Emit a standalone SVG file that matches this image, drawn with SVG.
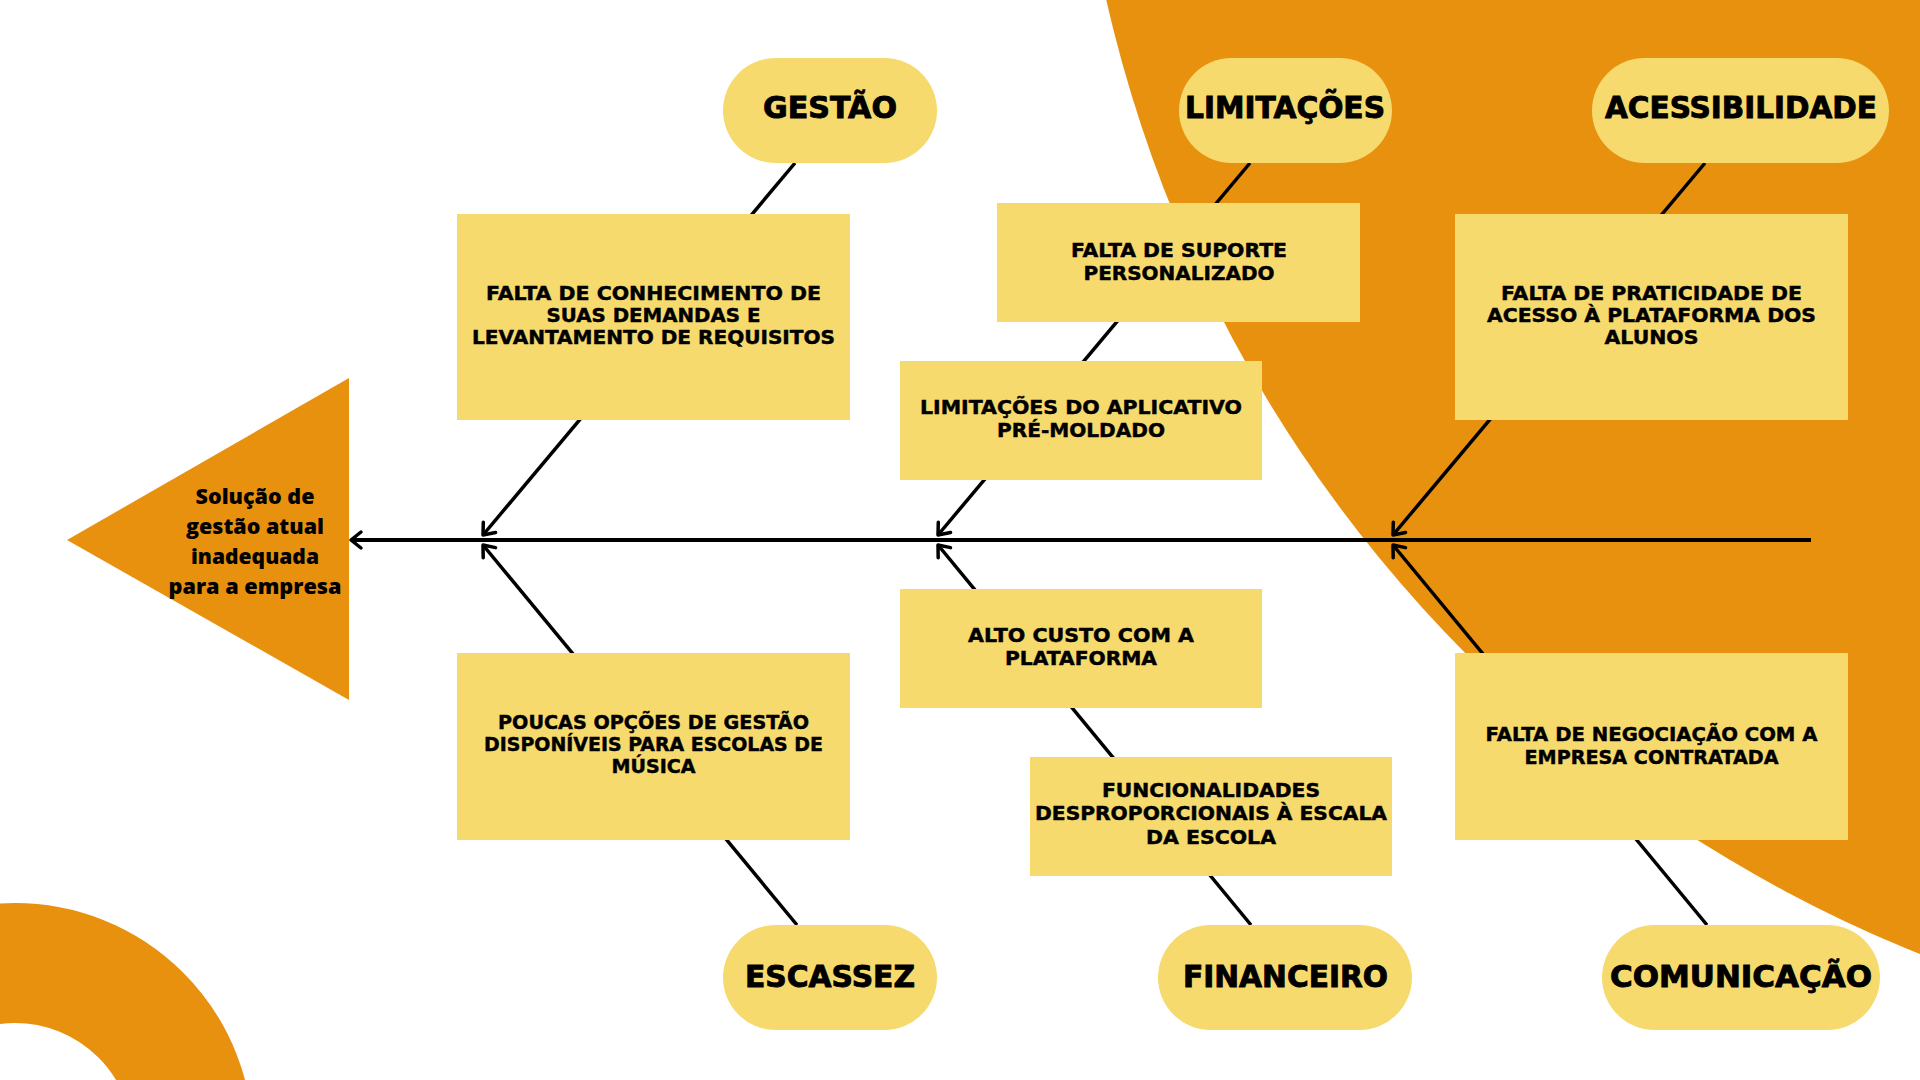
<svg xmlns="http://www.w3.org/2000/svg" width="1920" height="1080" viewBox="0 0 1920 1080">
<style>
.bg{fill:#E8910F}
.box{fill:#F6DA6E}
.cat{font-family:"DejaVu Sans",sans-serif;font-weight:700;font-size:30px;fill:#000;stroke:#000;stroke-width:0.9;text-anchor:middle}
.txt{font-family:"DejaVu Sans",sans-serif;font-weight:700;font-size:19px;fill:#000;stroke:#000;stroke-width:0.45;text-anchor:middle}
.eff{font-family:"Open Sans",sans-serif;font-weight:800;font-size:21px;fill:#000;text-anchor:middle}
.ln{stroke:#000;stroke-width:3.5;fill:none}
.sp{stroke:#000;stroke-width:4;fill:none}
</style>
<defs>
<marker id="arr" markerWidth="24" markerHeight="24" viewBox="-14 -12 24 24" refX="0" refY="0" orient="auto" markerUnits="userSpaceOnUse">
<path d="M-10,-8 L0,0 L-10,8" fill="none" stroke="#000" stroke-width="3.5" stroke-linecap="round" stroke-linejoin="round"/>
</marker>
</defs>
<rect width="1920" height="1080" fill="#FFFFFF"/>
<g id="background">
<circle class="bg" cx="2422" cy="-298" r="1349"/>
<circle cx="15" cy="1141" r="178" fill="none" stroke="#E8910F" stroke-width="120"/>
</g>
<g id="effect">
<polygon class="bg" points="67,540 349,378 349,700"/>
<text class="eff" x="255" y="504" textLength="119" lengthAdjust="spacingAndGlyphs">Solução de</text>
<text class="eff" x="255" y="534" textLength="138" lengthAdjust="spacingAndGlyphs">gestão atual</text>
<text class="eff" x="255" y="564" textLength="128" lengthAdjust="spacingAndGlyphs">inadequada</text>
<text class="eff" x="255" y="594" textLength="173" lengthAdjust="spacingAndGlyphs">para a empresa</text>
</g>
<g id="connectors">
<line class="sp" x1="1811" y1="540" x2="351" y2="540" marker-end="url(#arr)"/>
<line class="ln" x1="795" y1="163" x2="483" y2="535" marker-end="url(#arr)"/>
<line class="ln" x1="797" y1="925" x2="483" y2="545" marker-end="url(#arr)"/>
<line class="ln" x1="1250" y1="163" x2="938" y2="535" marker-end="url(#arr)"/>
<line class="ln" x1="1251" y1="925" x2="938" y2="545" marker-end="url(#arr)"/>
<line class="ln" x1="1705" y1="163" x2="1393" y2="535" marker-end="url(#arr)"/>
<line class="ln" x1="1707" y1="925" x2="1393" y2="545" marker-end="url(#arr)"/>
</g>
<g id="cat-gestao">
<rect class="box" x="723" y="58" width="214" height="105" rx="52.5"/>
<text class="cat" x="830" y="118" textLength="134" lengthAdjust="spacingAndGlyphs">GESTÃO</text>
</g>
<g id="cat-limitacoes">
<rect class="box" x="1179" y="58" width="213" height="105" rx="52.5"/>
<text class="cat" x="1285" y="118" textLength="200" lengthAdjust="spacingAndGlyphs">LIMITAÇÕES</text>
</g>
<g id="cat-acessibilidade">
<rect class="box" x="1592" y="58" width="297" height="105" rx="52.5"/>
<text class="cat" x="1741" y="118" textLength="272" lengthAdjust="spacingAndGlyphs">ACESSIBILIDADE</text>
</g>
<g id="cat-escassez">
<rect class="box" x="723" y="925" width="214" height="105" rx="52.5"/>
<text class="cat" x="830" y="987" textLength="170" lengthAdjust="spacingAndGlyphs">ESCASSEZ</text>
</g>
<g id="cat-financeiro">
<rect class="box" x="1158" y="925" width="254" height="105" rx="52.5"/>
<text class="cat" x="1285.5" y="987" textLength="205" lengthAdjust="spacingAndGlyphs">FINANCEIRO</text>
</g>
<g id="cat-comunicacao">
<rect class="box" x="1602" y="925" width="278" height="105" rx="52.5"/>
<text class="cat" x="1741" y="987" textLength="262" lengthAdjust="spacingAndGlyphs">COMUNICAÇÃO</text>
</g>
<g id="cause-conhecimento">
<rect class="box" x="457" y="214" width="393" height="206"/>
<text class="txt" x="653.5" y="300" textLength="335" lengthAdjust="spacingAndGlyphs">FALTA DE CONHECIMENTO DE</text>
<text class="txt" x="653.5" y="322" textLength="214" lengthAdjust="spacingAndGlyphs">SUAS DEMANDAS E</text>
<text class="txt" x="653.5" y="344" textLength="363" lengthAdjust="spacingAndGlyphs">LEVANTAMENTO DE REQUISITOS</text>
</g>
<g id="cause-suporte">
<rect class="box" x="997" y="203" width="363" height="119"/>
<text class="txt" x="1179" y="257" textLength="216" lengthAdjust="spacingAndGlyphs">FALTA DE SUPORTE</text>
<text class="txt" x="1179" y="280" textLength="191" lengthAdjust="spacingAndGlyphs">PERSONALIZADO</text>
</g>
<g id="cause-aplicativo">
<rect class="box" x="900" y="361" width="362" height="119"/>
<text class="txt" x="1081" y="414" textLength="322" lengthAdjust="spacingAndGlyphs">LIMITAÇÕES DO APLICATIVO</text>
<text class="txt" x="1081" y="437" textLength="168" lengthAdjust="spacingAndGlyphs">PRÉ-MOLDADO</text>
</g>
<g id="cause-praticidade">
<rect class="box" x="1455" y="214" width="393" height="206"/>
<text class="txt" x="1651.5" y="300" textLength="301" lengthAdjust="spacingAndGlyphs">FALTA DE PRATICIDADE DE</text>
<text class="txt" x="1651.5" y="322" textLength="329" lengthAdjust="spacingAndGlyphs">ACESSO À PLATAFORMA DOS</text>
<text class="txt" x="1651.5" y="344" textLength="94" lengthAdjust="spacingAndGlyphs">ALUNOS</text>
</g>
<g id="cause-opcoes">
<rect class="box" x="457" y="653" width="393" height="187"/>
<text class="txt" x="653.5" y="729" textLength="311" lengthAdjust="spacingAndGlyphs">POUCAS OPÇÕES DE GESTÃO</text>
<text class="txt" x="653.5" y="751" textLength="339" lengthAdjust="spacingAndGlyphs">DISPONÍVEIS PARA ESCOLAS DE</text>
<text class="txt" x="653.5" y="773" textLength="84" lengthAdjust="spacingAndGlyphs">MÚSICA</text>
</g>
<g id="cause-custo">
<rect class="box" x="900" y="589" width="362" height="119"/>
<text class="txt" x="1081" y="642" textLength="226" lengthAdjust="spacingAndGlyphs">ALTO CUSTO COM A</text>
<text class="txt" x="1081" y="665" textLength="152" lengthAdjust="spacingAndGlyphs">PLATAFORMA</text>
</g>
<g id="cause-funcionalidades">
<rect class="box" x="1030" y="757" width="362" height="119"/>
<text class="txt" x="1211" y="797" textLength="218" lengthAdjust="spacingAndGlyphs">FUNCIONALIDADES</text>
<text class="txt" x="1211" y="820" textLength="352" lengthAdjust="spacingAndGlyphs">DESPROPORCIONAIS À ESCALA</text>
<text class="txt" x="1211" y="844" textLength="130" lengthAdjust="spacingAndGlyphs">DA ESCOLA</text>
</g>
<g id="cause-negociacao">
<rect class="box" x="1455" y="653" width="393" height="187"/>
<text class="txt" x="1651.5" y="741" textLength="332" lengthAdjust="spacingAndGlyphs">FALTA DE NEGOCIAÇÃO COM A</text>
<text class="txt" x="1651.5" y="764" textLength="254" lengthAdjust="spacingAndGlyphs">EMPRESA CONTRATADA</text>
</g>
</svg>
